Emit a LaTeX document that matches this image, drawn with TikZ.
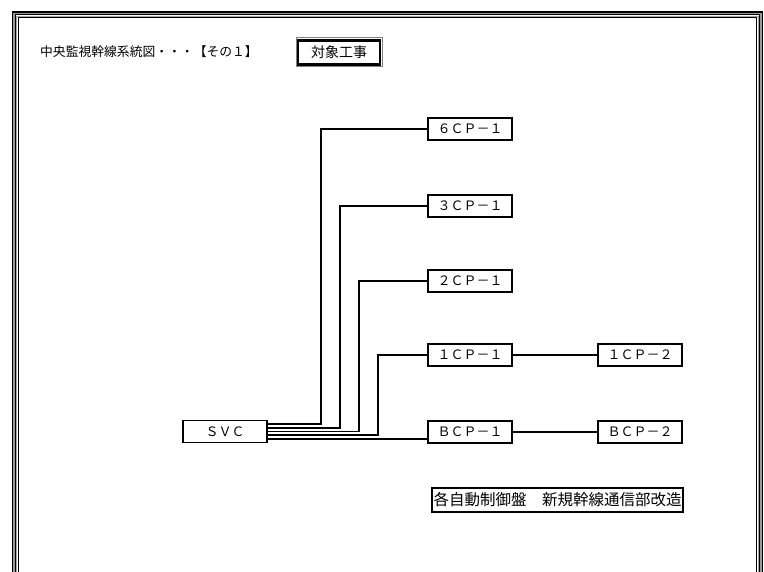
\documentclass[tikz,border=0pt]{standalone}
\usepackage{fontspec}
\setmainfont{Noto Sans CJK JP}
\usepackage{tikz}
\usetikzlibrary{positioning}

\begin{document}
\begin{tikzpicture}[x=1pt,y=-1pt,
  panel/.style={rectangle,draw,line width=1.6pt,minimum width=84pt,minimum height=22pt,inner sep=0pt,font=\fontsize{13}{15}\selectfont},
  link/.style={line width=1.8pt},
  tag/.style={rectangle,draw,line width=2.4pt,minimum width=82pt,minimum height=24pt,inner sep=0pt,font=\fontsize{14}{16}\selectfont},
  note/.style={rectangle,draw,line width=2pt,minimum width=251pt,minimum height=24pt,inner sep=0pt,font=\fontsize{15.5}{17}\selectfont}
]
  \useasboundingbox (0,0) rectangle (764,572);
  % frame
  \foreach \o/\c in {0.6/black,2/gray!80,3.4/black,4.8/gray!70,6.2/black}
    \draw[\c,line width=1.2pt] (12+\o,572) -- (12+\o,11.5+\o) -- (763-\o,11.5+\o) -- (763-\o,572);

  % title
  \node[anchor=west,inner sep=0pt,font=\fontsize{12.8}{14}\selectfont] (title) at (40,52) {中央監視幹線系統図・・・【その１】};
  \draw[gray,line width=1pt] (296,38) rectangle (382,67);
  \node[tag] (work) at (339,52.5) {対象工事};

  % panels
  \node[panel] (svc) at (225,431.5) {ＳＶＣ};
  \node[panel] (c6) at (470,129) {６ＣＰ－１};
  \node[panel] (c3) at (470,206) {３ＣＰ－１};
  \node[panel] (c2) at (470,281) {２ＣＰ－１};
  \node[panel] (c1) at (470,355) {１ＣＰ－１};
  \node[panel] (b1) at (470,432) {ＢＣＰ－１};
  \node[panel] (c1b) at (640,355) {１ＣＰ－２};
  \node[panel] (b2) at (640,432) {ＢＣＰ－２};

  % trunk lines
  \draw[link] ([yshift=7.5pt]svc.east) -- ++(53,0) |- (c6.west);
  \draw[link] ([yshift=3.75pt]svc.east) -- ++(72,0) |- (c3.west);
  \draw[link] (svc.east) -- ++(91,0) |- (c2.west);
  \draw[link] ([yshift=-3.75pt]svc.east) -- ++(110,0) |- (c1.west);
  \draw[link] ([yshift=-7.5pt]svc.east) -- ([yshift=-7.5pt]svc.east -| b1.west);
  \draw[link] (c1) -- (c1b);
  \draw[link] (b1) -- (b2);

  \node[note] (memo) at (557.5,500) {各自動制御盤　新規幹線通信部改造};
\end{tikzpicture}
\end{document}
